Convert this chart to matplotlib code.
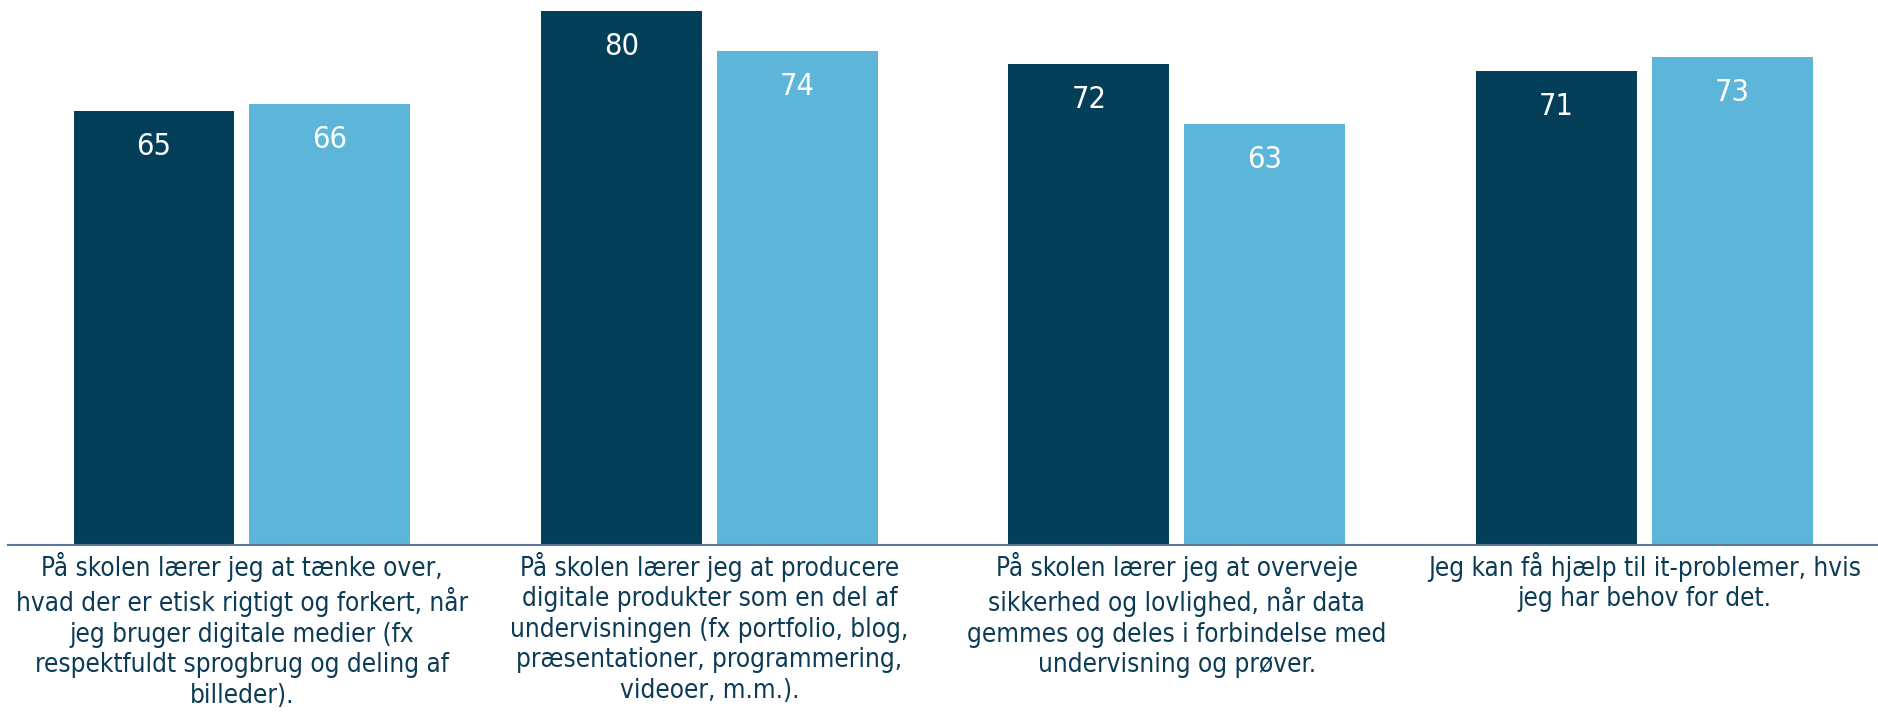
import matplotlib
matplotlib.use('Agg')
import matplotlib.pyplot as plt
import numpy as np

categories = [
    'På skolen lærer jeg at tænke over,\nhvad der er etisk rigtigt og forkert, når\njeg bruger digitale medier (fx\nrespektfuldt sprogbrug og deling af\nbilleder).',
    'På skolen lærer jeg at producere\ndigitale produkter som en del af\nundervisningen (fx portfolio, blog,\npræsentationer, programmering,\nvideoer, m.m.).',
    'På skolen lærer jeg at overveje\nsikkerhed og lovlighed, når data\ngemmes og deles i forbindelse med\nundervisning og prøver.',
    'Jeg kan få hjælp til it-problemer, hvis\njeg har behov for det.',
]
series_a = [65, 80, 72, 71]
series_b = [66, 74, 63, 73]

dark = '#043f5a'
light = '#5db5da'
text_col = '#0b3b55'

plt.rcParams['font.family'] = ['DejaVu Sans']
plt.rcParams['font.stretch'] = 'condensed'

fig = plt.figure(figsize=(18.78, 7.21), dpi=100)
ax = fig.add_axes([0.0043, 0.2441, 0.9957, 0.7559])

x = np.arange(len(categories))
w = 0.344
off = 0.188
bars_a = ax.bar(x - off, series_a, w, color=dark)
bars_b = ax.bar(x + off, series_b, w, color=light)

for bars in (bars_a, bars_b):
    for b in bars:
        ax.annotate(f'{b.get_height():.0f}', (b.get_x() + b.get_width() / 2, b.get_height()),
                    xytext=(0, -25.5), textcoords='offset points', ha='center', va='center',
                    color='white', fontsize=22)

ax.set_xlim(-0.5, 3.5)
ax.set_ylim(0, 81.6)
ax.set_xticks(x)
ax.set_xticklabels(categories, fontsize=18.7, color=text_col, linespacing=1.22)
ax.tick_params(axis='x', length=0, pad=5)
ax.set_yticks([])
for s in ('top', 'right', 'left'):
    ax.spines[s].set_visible(False)
ax.spines['bottom'].set_color('#5a7896')
ax.spines['bottom'].set_linewidth(1.5)

fig.savefig('out.png', dpi=100)
